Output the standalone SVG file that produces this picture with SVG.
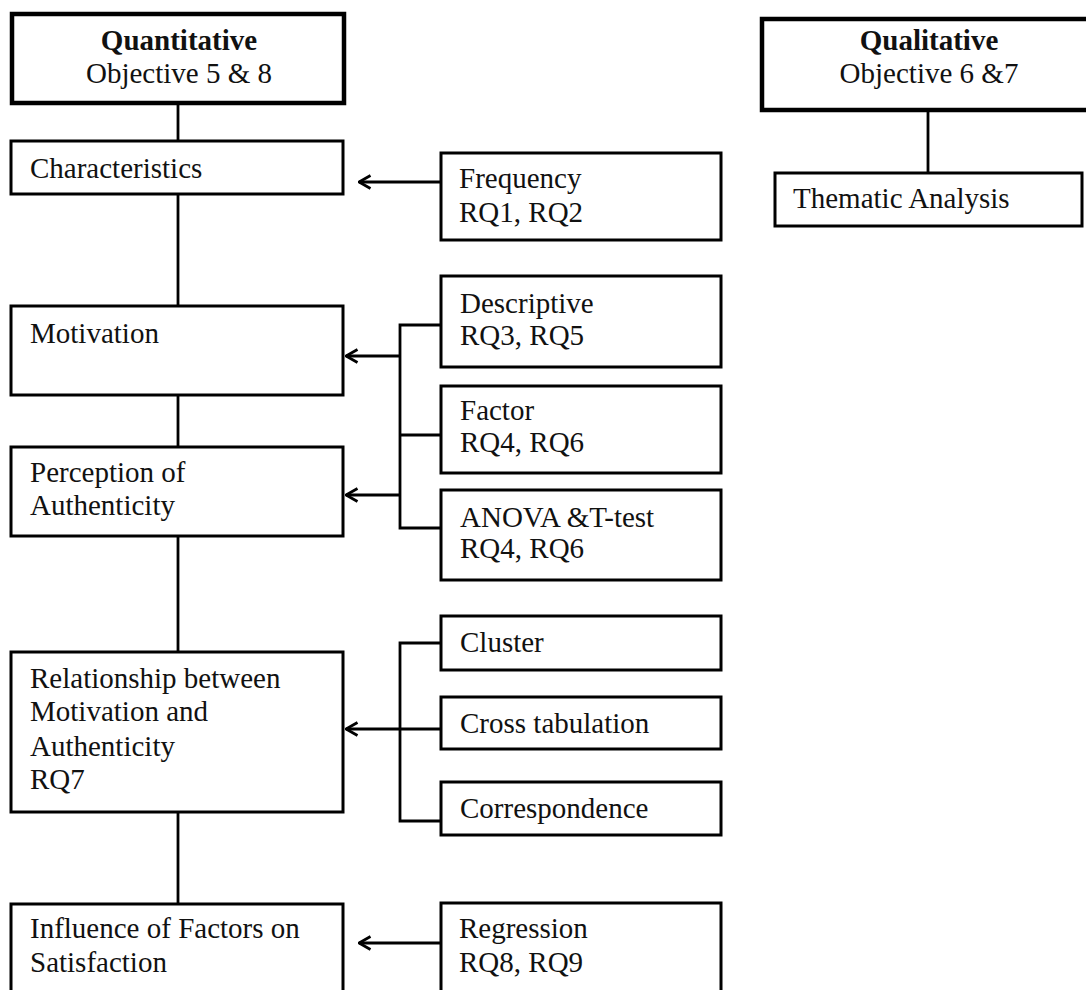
<svg xmlns="http://www.w3.org/2000/svg" width="1086" height="990" viewBox="0 0 1086 990">
  <style>
    .box { fill: #ffffff; stroke: #000000; stroke-width: 3; }
    .head { fill: #ffffff; stroke: #000000; stroke-width: 4.5; }
    .link { fill: none; stroke: #000000; stroke-width: 2.8; }
    text { font-family: "Liberation Serif", "Times New Roman", serif; font-size: 29px; fill: #111111; }
    .bold { font-weight: bold; }
    .mid { text-anchor: middle; }
  </style>
  <defs>
    <!-- open chevron head, drawn pointing along the line direction -->
    <marker id="chev" viewBox="0 0 14 16" refX="12.5" refY="8" markerWidth="14" markerHeight="16" markerUnits="userSpaceOnUse" orient="auto">
      <path d="M1 1.5 L12.5 8 L1 14.5" fill="none" stroke="#000000" stroke-width="2.8" stroke-linejoin="miter"/>
    </marker>
  </defs>
  <rect width="1086" height="990" fill="#ffffff"/>

  <!-- connectors -->
  <g id="connectors">
    <!-- quantitative spine -->
    <line class="link" x1="178" y1="103" x2="178" y2="140"/>
    <line class="link" x1="178" y1="194" x2="178" y2="305"/>
    <line class="link" x1="178" y1="395" x2="178" y2="446"/>
    <line class="link" x1="178" y1="536" x2="178" y2="651"/>
    <line class="link" x1="178" y1="812" x2="178" y2="903"/>
    <!-- qualitative spine -->
    <line class="link" x1="928" y1="110" x2="928" y2="172"/>
    <!-- frequency -->
    <line class="link" x1="440" y1="182" x2="359" y2="182" marker-end="url(#chev)"/>
    <!-- descriptive / factor / anova bus -->
    <polyline class="link" points="440,325 400,325 400,528 440,528"/>
    <line class="link" x1="400" y1="435" x2="440" y2="435"/>
    <line class="link" x1="400" y1="356" x2="346" y2="356" marker-end="url(#chev)"/>
    <line class="link" x1="400" y1="495" x2="346" y2="495" marker-end="url(#chev)"/>
    <!-- cluster / cross tabulation / correspondence bus -->
    <polyline class="link" points="440,643 400,643 400,821 440,821"/>
    <line class="link" x1="440" y1="729" x2="346" y2="729" marker-end="url(#chev)"/>
    <!-- regression -->
    <line class="link" x1="440" y1="943" x2="359" y2="943" marker-end="url(#chev)"/>
  </g>

  <!-- quantitative column -->
  <g id="quantitative">
    <rect class="head" x="12" y="14" width="332" height="89"/>
    <text class="bold mid" x="179" y="50">Quantitative</text>
    <text class="mid" x="179" y="83">Objective 5 &amp; 8</text>
  </g>
  <g id="characteristics">
    <rect class="box" x="11" y="141" width="332" height="53"/>
    <text x="30" y="178">Characteristics</text>
  </g>
  <g id="motivation">
    <rect class="box" x="11" y="306" width="332" height="89"/>
    <text x="30" y="343">Motivation</text>
  </g>
  <g id="perception">
    <rect class="box" x="11" y="447" width="332" height="89"/>
    <text x="30" y="482">Perception of</text>
    <text x="30" y="515">Authenticity</text>
  </g>
  <g id="relationship">
    <rect class="box" x="11" y="652" width="332" height="160"/>
    <text x="30" y="688">Relationship between</text>
    <text x="30" y="721">Motivation and</text>
    <text x="30" y="756">Authenticity</text>
    <text x="30" y="789">RQ7</text>
  </g>
  <g id="influence">
    <rect class="box" x="11" y="904" width="332" height="100"/>
    <text x="30" y="938">Influence of Factors on</text>
    <text x="30" y="972">Satisfaction</text>
  </g>

  <!-- analysis methods -->
  <g id="frequency">
    <rect class="box" x="441" y="153" width="280" height="87"/>
    <text x="459" y="188">Frequency</text>
    <text x="459" y="222">RQ1, RQ2</text>
  </g>
  <g id="descriptive">
    <rect class="box" x="441" y="276" width="280" height="91"/>
    <text x="460" y="313">Descriptive</text>
    <text x="460" y="345">RQ3, RQ5</text>
  </g>
  <g id="factor">
    <rect class="box" x="441" y="386" width="280" height="87"/>
    <text x="460" y="420">Factor</text>
    <text x="460" y="452">RQ4, RQ6</text>
  </g>
  <g id="anova">
    <rect class="box" x="441" y="490" width="280" height="90"/>
    <text x="460" y="527">ANOVA &amp;T-test</text>
    <text x="460" y="558">RQ4, RQ6</text>
  </g>
  <g id="cluster">
    <rect class="box" x="441" y="616" width="280" height="54"/>
    <text x="460" y="652">Cluster</text>
  </g>
  <g id="crosstab">
    <rect class="box" x="441" y="697" width="280" height="52"/>
    <text x="460" y="733">Cross tabulation</text>
  </g>
  <g id="correspondence">
    <rect class="box" x="441" y="782" width="280" height="53"/>
    <text x="460" y="818">Correspondence</text>
  </g>
  <g id="regression">
    <rect class="box" x="441" y="903" width="280" height="100"/>
    <text x="459" y="938">Regression</text>
    <text x="459" y="972">RQ8, RQ9</text>
  </g>

  <!-- qualitative column -->
  <g id="qualitative">
    <rect class="head" x="762" y="19" width="340" height="91"/>
    <text class="bold mid" x="929" y="50">Qualitative</text>
    <text class="mid" x="929" y="83">Objective 6 &amp;7</text>
  </g>
  <g id="thematic">
    <rect class="box" x="775" y="173" width="307" height="53"/>
    <text x="793" y="208">Thematic Analysis</text>
  </g>
</svg>
